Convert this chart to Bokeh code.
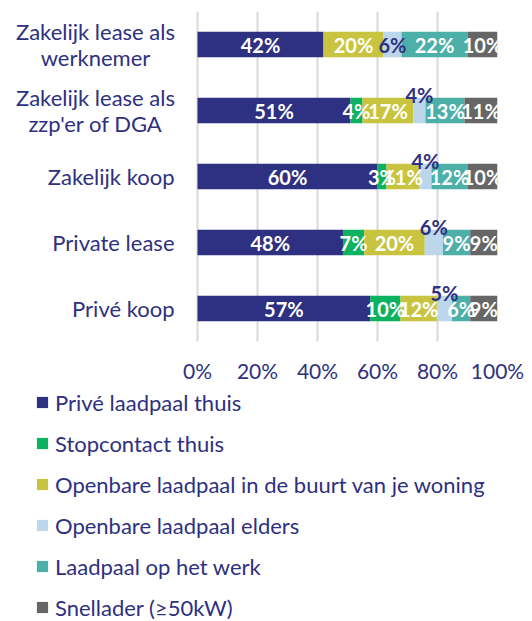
from bokeh.plotting import figure
from bokeh.models import (ColumnDataSource, FactorRange, Range1d, FixedTicker,
                          PrintfTickFormatter, Legend, LegendItem)
from bokeh.transform import dodge
from bokeh.layouts import column
from bokeh.core.properties import value
from bokeh.embed import file_html
from bokeh.resources import INLINE

# ---------------- data ----------------
categories = ["Zakelijk lease als\nwerknemer", "Zakelijk lease als\nzzp'er of DGA",
              "Zakelijk koop", "Private lease", "Privé koop"]
series_names = ["Privé laadpaal thuis", "Stopcontact thuis",
                "Openbare laadpaal in de buurt van je woning",
                "Openbare laadpaal elders", "Laadpaal op het werk",
                "Snellader (≥50kW)"]
prive_laadpaal = [42, 51, 60, 48, 57]
stopcontact = [0, 4, 3, 7, 10]
openbaar_buurt = [20, 17, 11, 20, 12]
openbaar_elders = [6, 4, 4, 6, 5]
laadpaal_werk = [22, 13, 12, 9, 6]
snellader = [10, 11, 10, 9, 9]
x_ticks = [0, 20, 40, 60, 80, 100]

# ---------------- style ----------------
colors = ["#2E3081", "#0BB360", "#C9C43F", "#BCD6EC", "#4CAFA8", "#666666"]
label_colors = ["white", "white", "white", "#2E3081", "white", "white"]
elders_label_above = [False, True, True, True, True]
cat_align = ["center", "center", "right", "right", "right"]
cat_offset = [-102, -102, -23, -23, -23]
NAVY = "#2E3081"
FONT = "Lato"
BAR_H = 0.39
W = 532
H1, H2 = 388, 233
LEFT, RIGHT = 10, 35
PLOT_X0 = 197                                   # pixel where 0 % sits

series = [prive_laadpaal, stopcontact, openbaar_buurt, openbaar_elders,
          laadpaal_werk, snellader]
totals = [sum(vals) for vals in zip(*series)]

units_per_px = 100 / (W - RIGHT - PLOT_X0)
p = figure(width=W, height=H1, output_backend="svg", toolbar_location=None,
           y_range=FactorRange(factors=list(reversed(categories))),
           x_range=Range1d(-(PLOT_X0 - LEFT) * units_per_px, 100),
           y_axis_location=None,
           min_border_left=LEFT, min_border_right=RIGHT, min_border_top=11,
           min_border_bottom=47)
p.outline_line_color = None
p.background_fill_color = "white"
p.border_fill_color = "white"

cum = [0.0] * len(categories)
inside = {"y": [], "x": [], "t": [], "c": []}
above = {"y": [], "x": [], "t": [], "c": []}
for si, vals in enumerate(series):
    left = list(cum)
    right = [cum[i] + vals[i] / totals[i] * 100 for i in range(len(vals))]
    src = ColumnDataSource(dict(y=categories, left=left, right=right))
    p.hbar(y="y", left="left", right="right", height=BAR_H, source=src,
           fill_color=colors[si], line_color=None)
    for i, v in enumerate(vals):
        if v <= 0:
            continue
        mid = (left[i] + right[i]) / 2
        target = above if (si == 3 and elders_label_above[i]) else inside
        target["y"].append(categories[i])
        target["x"].append(mid)
        target["t"].append(f"{v}%")
        target["c"].append(NAVY if target is above else label_colors[si])
    cum = right

p.text(x="x", y="y", text="t", text_color="c", source=ColumnDataSource(inside),
       text_font=value(FONT), text_font_style="bold", text_font_size="20px",
       text_align="center", text_baseline="middle")
p.text(x="x", y=dodge("y", BAR_H / 2 + 0.035, range=p.y_range), text="t",
       text_color="c", source=ColumnDataSource(above),
       text_font=value(FONT), text_font_style="bold", text_font_size="20px",
       text_align="center", text_baseline="alphabetic")

# category labels (left of the 0 % line)
cat_src = ColumnDataSource(dict(y=categories, x=[0] * len(categories),
                                t=categories, al=cat_align, off=cat_offset))
p.text(x="x", y="y", text="t", source=cat_src, x_offset="off",
       text_align="al", text_font=value(FONT), text_font_size="22px",
       text_color=NAVY, text_baseline="middle", text_line_height=0.94)

# x axis
xa = p.xaxis[0]
xa.ticker = FixedTicker(ticks=x_ticks)
xa.formatter = PrintfTickFormatter(format="%d%%")
xa.axis_line_color = None
xa.major_tick_line_color = None
xa.minor_tick_line_color = None
xa.major_tick_out = 0
xa.major_label_standoff = 16
xa.major_label_text_font = FONT
xa.major_label_text_font_size = "21px"
xa.major_label_text_color = NAVY

p.ygrid.grid_line_color = None
p.xgrid.ticker = FixedTicker(ticks=x_ticks)
p.xgrid.grid_line_color = "#D9D9D9"
p.xgrid.grid_line_width = 2

# ---------------- legend panel ----------------
lg = figure(width=W, height=H2, output_backend="svg", toolbar_location=None,
            x_axis_location=None, y_axis_location=None,
            x_range=Range1d(0, 1), y_range=Range1d(0, 1),
            min_border_left=LEFT, min_border_right=RIGHT, min_border_top=0,
            min_border_bottom=0)
lg.outline_line_color = None
lg.xgrid.visible = False
lg.ygrid.visible = False
lg.background_fill_color = "white"
lg.border_fill_color = "white"
items = []
for si, name in enumerate(series_names):
    # zero-size swatch carrier: only its colour is shown, in the legend
    r = lg.hbar(y=[0], left=[0], right=[0], height=0, fill_color=colors[si],
                line_color=None)
    items.append(LegendItem(label=name, renderers=[r]))
legend = Legend(items=items, location=(25, 0), margin=0, padding=0,
                glyph_width=14, glyph_height=14, label_height=28, spacing=13,
                label_standoff=6, label_text_font=FONT,
                label_text_font_size="22px", label_text_color=NAVY,
                border_line_color=None, background_fill_alpha=0)
lg.add_layout(legend)

open("out.html", "w").write(file_html(column(p, lg, spacing=0), INLINE))
